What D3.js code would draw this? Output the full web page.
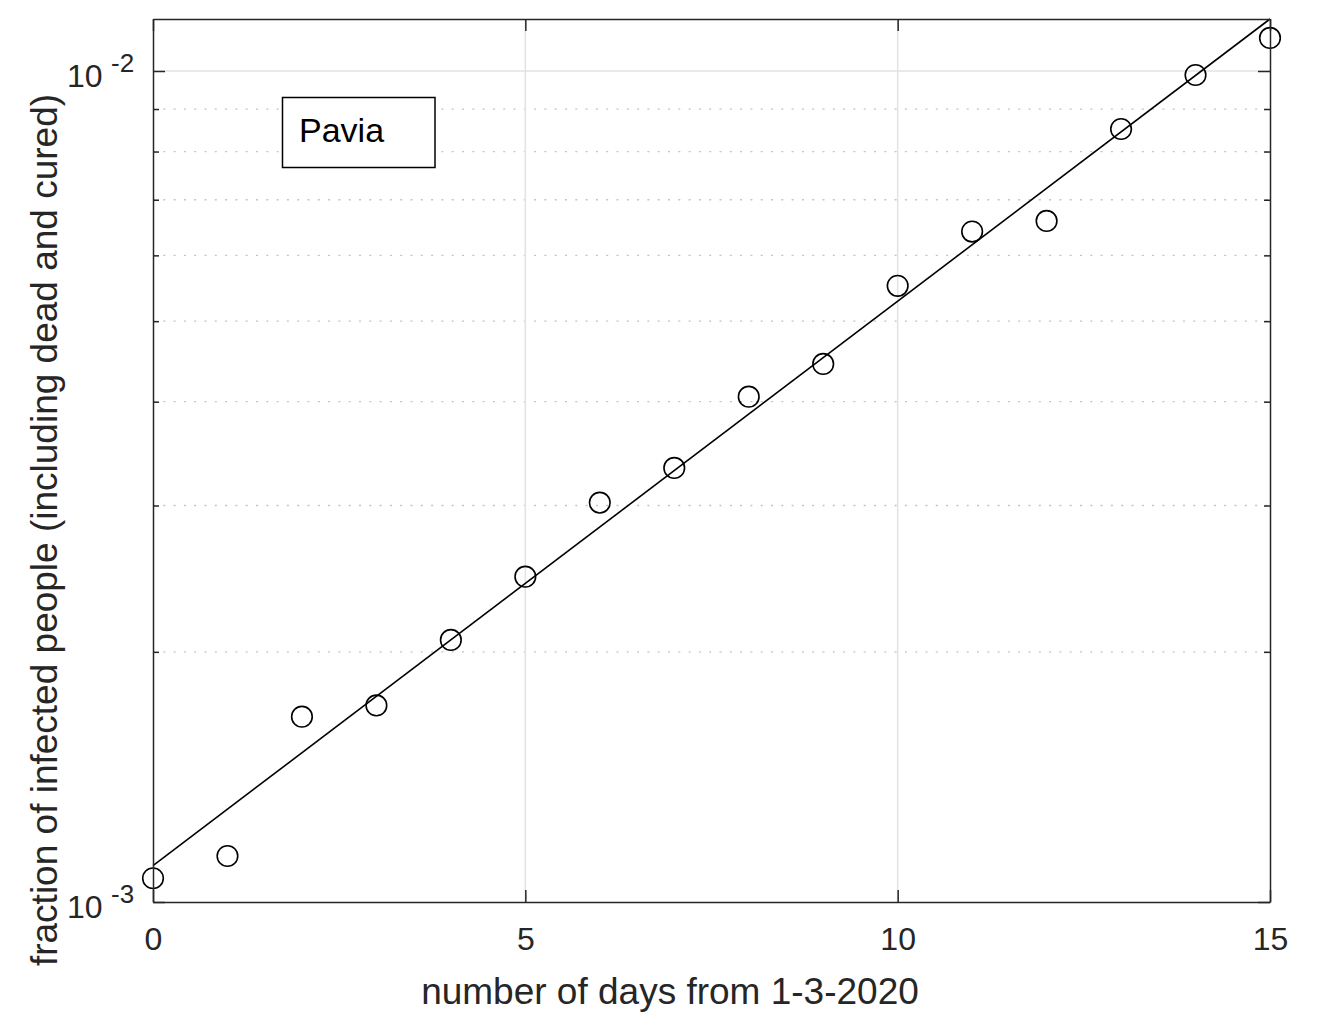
<!DOCTYPE html>
<html><head><meta charset="utf-8">
<script src="https://cdn.jsdelivr.net/npm/d3@7"></script>
<style>body{margin:0;background:#fff}svg{display:block}</style>
</head><body><svg id="c" width="1324" height="1018"></svg>
<script>
// ---- data ----
const days = [0,1,2,3,4,5,6,7,8,9,10,11,12,13,14,15];
const fraction = [1.068e-3,1.136e-3,1.671e-3,1.724e-3,2.067e-3,2.463e-3,3.024e-3,3.329e-3,4.056e-3,4.441e-3,5.515e-3,6.409e-3,6.601e-3,8.515e-3,9.890e-3,1.096e-2];
const fitDays = [0, 15];
const fitFraction = [1.106e-3, 1.155e-2];
const xTicks = [0,5,10,15];
const xGridTicks = [5,10];
const yMajorTicks = [1e-3, 1e-2];
const yMajorBase = ["10","10"];
const yMajorExponents = ["-3","-2"];
const yMinorTicks = [2e-3,3e-3,4e-3,5e-3,6e-3,7e-3,8e-3,9e-3];
const yDomain = [1e-3, 1.155e-2];
const xDomain = [0, 15];
const legendLabel = "Pavia";
const xLabel = "number of days from 1-3-2020";
const yLabel = "fraction of infected people (including dead and cured)";

// ---- layout ----
const L = 153, R = 1270, T = 19, B = 902;
const FONT = "'Liberation Sans', Arial, Helvetica, sans-serif";
const AX = "#262626";
const svg = d3.select("#c");
const x = d3.scaleLinear().domain(xDomain).range([L, R]);
const y = d3.scaleLog().domain(yDomain).range([B, T]);

// grid
const grid = svg.append("g");
grid.selectAll("line.ym").data(yMinorTicks).join("line")
  .attr("x1", L).attr("x2", R).attr("y1", d => y(d)).attr("y2", d => y(d))
  .attr("stroke", "#c4c4c4").attr("stroke-width", 1.3).attr("stroke-dasharray", "2,8.3");
grid.selectAll("line.xg").data(xGridTicks).join("line")
  .attr("x1", d => x(d)).attr("x2", d => x(d)).attr("y1", T).attr("y2", B)
  .attr("stroke", "#e2e2e2").attr("stroke-width", 1.5);
grid.selectAll("line.yg").data(yMajorTicks.filter(d => y(d) > T + 1 && y(d) < B - 1)).join("line")
  .attr("x1", L).attr("x2", R).attr("y1", d => y(d)).attr("y2", d => y(d))
  .attr("stroke", "#e2e2e2").attr("stroke-width", 1.5);

// fit line
svg.append("path")
  .datum(fitDays.map((d, i) => [d, fitFraction[i]]))
  .attr("d", d3.line().x(d => x(d[0])).y(d => y(d[1])))
  .attr("fill", "none").attr("stroke", "#000").attr("stroke-width", 1.6);

// points
svg.append("g").selectAll("circle").data(days).join("circle")
  .attr("cx", (d) => x(d)).attr("cy", (d, i) => y(fraction[i])).attr("r", 10.3)
  .attr("fill", "none").attr("stroke", "#000").attr("stroke-width", 1.6);

// axes
function style(g) {
  g.selectAll("path.domain").attr("stroke", AX).attr("stroke-width", 1.5);
  g.selectAll(".tick line").attr("stroke", AX).attr("stroke-width", 1.5);
}
const xb = svg.append("g").attr("transform", `translate(0,${B})`)
  .call(d3.axisBottom(x).tickValues(xTicks).tickSizeInner(-12).tickSizeOuter(0).tickFormat(d3.format("d")));
style(xb);
xb.selectAll(".tick text").attr("dy", null).attr("y", 48)
  .attr("font-family", FONT).attr("font-size", 32).attr("fill", AX);
const xt = svg.append("g").attr("transform", `translate(0,${T})`)
  .call(d3.axisTop(x).tickValues(xTicks).tickSizeInner(-12).tickSizeOuter(0).tickFormat(""));
style(xt);

const yl = svg.append("g").attr("transform", `translate(${L},0)`)
  .call(d3.axisLeft(y).tickValues(yMajorTicks).tickSizeInner(-12).tickSizeOuter(0).tickFormat(""));
style(yl);
const ylm = svg.append("g").attr("transform", `translate(${L},0)`)
  .call(d3.axisLeft(y).tickValues(yMinorTicks).tickSizeInner(-6).tickSizeOuter(0).tickFormat(""));
style(ylm); ylm.select("path.domain").remove();
const yr = svg.append("g").attr("transform", `translate(${R},0)`)
  .call(d3.axisRight(y).tickValues(yMajorTicks).tickSizeInner(-12).tickSizeOuter(0).tickFormat(""));
style(yr);
const yrm = svg.append("g").attr("transform", `translate(${R},0)`)
  .call(d3.axisRight(y).tickValues(yMinorTicks).tickSizeInner(-6).tickSizeOuter(0).tickFormat(""));
style(yrm); yrm.select("path.domain").remove();

// y tick labels with superscripts
const ylab = svg.append("g").selectAll("g").data(yMajorTicks).join("g");
ylab.append("text").attr("x", 67).attr("y", d => y(d) + 16)
  .attr("font-family", FONT).attr("font-size", 32).attr("fill", AX)
  .text((d, i) => yMajorBase[i]);
ylab.append("text").attr("x", 111).attr("y", d => y(d) + 1)
  .attr("font-family", FONT).attr("font-size", 26).attr("fill", AX)
  .text((d, i) => yMajorExponents[i]);

// axis labels
svg.append("text").attr("x", 670).attr("y", 1004).attr("text-anchor", "middle")
  .attr("font-family", FONT).attr("font-size", 37).attr("fill", AX).text(xLabel);
svg.append("text").attr("transform", "translate(57,530) rotate(-90)").attr("text-anchor", "middle")
  .attr("font-family", FONT).attr("font-size", 37).attr("fill", AX).text(yLabel);

// legend
svg.append("rect").attr("x", 282.5).attr("y", 97.5).attr("width", 152.5).attr("height", 70)
  .attr("fill", "#fff").attr("stroke", "#000").attr("stroke-width", 1.5);
svg.append("text").attr("x", 299).attr("y", 142).attr("font-family", FONT).attr("font-size", 34)
  .attr("fill", "#000").text(legendLabel);
</script></body></html>
